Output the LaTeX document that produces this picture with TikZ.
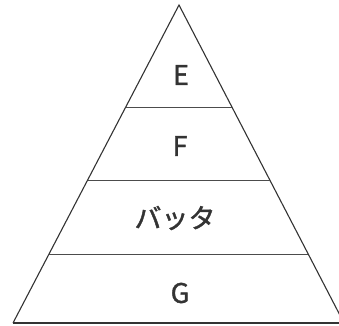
\documentclass[tikz,border=0pt]{standalone}
\usepackage{fontspec}
\setmainfont{Noto Sans CJK JP}
\newfontfamily\lblfont[FakeBold=1.5]{Noto Sans CJK JP}
\usetikzlibrary{calc}
\begin{document}
\begin{tikzpicture}[x=1pt,y=1pt,
  side/.style={draw=black!80,line width=1.1pt,line join=miter},
  tier/.style={draw=black!70,line width=0.8pt},
  lbl/.style={font=\lblfont\fontsize{27}{27}\selectfont,text=black!80,inner sep=0pt}]
\useasboundingbox (0,0) rectangle (339,325);
\clip (0,0) rectangle (339,325);
\coordinate (A) at (179,320);
\coordinate (L) at (13,2);
\coordinate (R) at (344,2);
\draw[side] (L) -- (A) -- (R);
\coordinate (B) at (339,2);
\draw[side] (L) -- (B);
\coordinate (l1) at ($(A)!0.3208!(L)$);
\coordinate (r1) at ($(A)!0.3208!(R)$);
\coordinate (l2) at ($(A)!0.5503!(L)$);
\coordinate (r2) at ($(A)!0.5503!(R)$);
\coordinate (l3) at ($(A)!0.783!(L)$);
\coordinate (r3) at ($(A)!0.783!(R)$);
\draw[tier] (l1) -- (r1);
\draw[tier] (l2) -- (r2);
\draw[tier] (l3) -- (r3);
\node[lbl] (e) at (181,250) {E};
\node[lbl] (f) at (180,179) {F};
\node[lbl] (b) at (175,107) {バッタ};
\node[lbl] (g) at (180,32) {G};
\end{tikzpicture}
\end{document}
